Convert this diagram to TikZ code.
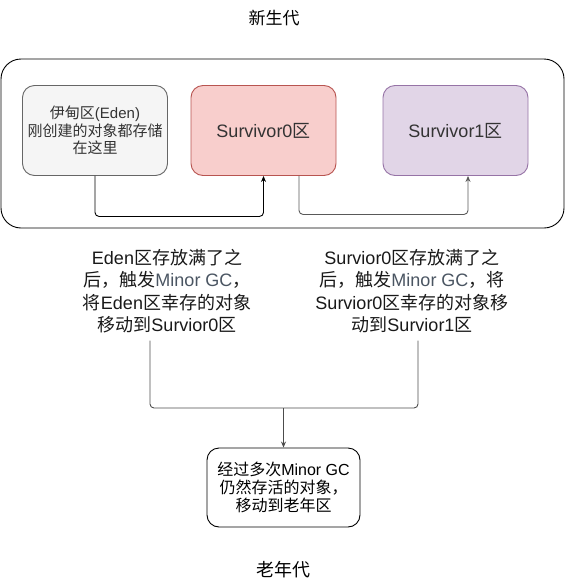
\documentclass[tikz,border=0pt]{standalone}
\usepackage{fontspec}
\setmainfont{Noto Sans CJK SC}
\newfontfamily\enfont{Liberation Sans}
\newcommand{\en}[1]{{\enfont #1}}
\usetikzlibrary{arrows.meta}
\definecolor{edenfill}{HTML}{F5F5F5}
\definecolor{edendraw}{HTML}{666666}
\definecolor{sfill}{HTML}{F8CECC}
\definecolor{sdraw}{HTML}{B85450}
\definecolor{pfill}{HTML}{E1D5E7}
\definecolor{pdraw}{HTML}{9673A6}
\definecolor{txtgray}{HTML}{333333}
\definecolor{gcblue}{HTML}{4A5562}
\begin{document}
\begin{tikzpicture}[
    x=1pt, y=-1pt, line width=0.9pt,
    area/.style={draw, rounded corners=12pt, minimum width=145pt, minimum height=90pt,
      align=center, text=txtgray, font=\fontsize{18}{22}\selectfont},
    note/.style={align=center, inner xsep=0pt, inner ysep=7pt, text=black!90,
      font=\fontsize{18}{22.5}\selectfont},
    title/.style={font=\fontsize{17}{20}\selectfont},
    conn/.style={draw=black!70, rounded corners=4pt},
    >={Stealth[length=6pt,width=5pt]}
  ]
  \useasboundingbox (0,0) rectangle (566,584);

  % Young generation
  \node[title] (ytitle) at (274,18) {新生代};
  \node[draw, rounded corners=20pt, minimum width=563pt, minimum height=169pt] (young) at (282.5,143.5) {};
  \node[area, fill=edenfill, draw=edendraw, font=\fontsize{15}{17.5}\selectfont] (eden) at (95,130.5)
    {伊甸区\en{(Eden)}\\刚创建的对象都存储\\在这里};
  \node[area, fill=sfill, draw=sdraw] (s0) at (263.5,130.5) {\en{Survivor0}区};
  \node[area, fill=pfill, draw=pdraw] (s1) at (455.5,130.5) {\en{Survivor1}区};

  \draw[conn, draw=black, ->] (eden.south) -- ++(0,40.5) -| (s0.south);
  \draw[conn, draw=black!65, ->] ([xshift=35.5pt]s0.south) -- ++(0,38.5) -| ([xshift=12.5pt]s1.south);

  % Minor GC notes
  \node[note] (capL) at (167,291)
    {\en{Eden}区存放满了之\\后，触发\textcolor{gcblue}{\en{Minor GC}}，\\将\en{Eden}区幸存的对象\\移动到\en{Survior0}区};
  \node[note] (capR) at (412,291)
    {\en{Survior0}区存放满了之\\后，触发\textcolor{gcblue}{\en{Minor GC}}，将\\\en{Survior0}区幸存的对象移\\动到\en{Survior1}区};

  % Old generation
  \node[area, draw=black, text=black, minimum width=153pt, minimum height=79pt,
    font=\fontsize{16}{18}\selectfont] (old) at (283.5,487.5)
    {经过多次\en{Minor GC}\\仍然存活的对象，\\移动到老年区};
  \node[title, font=\fontsize{18}{20}\selectfont] (otitle) at (283.5,570) {老年代};

  \coordinate (join) at (283.5,408);
  \draw[conn] ([xshift=-17pt]capL.south) |- (join);
  \draw[conn] ([xshift=6pt]capR.south) |- (join);
  \draw[conn, ->] (join) -- (old);

\end{tikzpicture}
\end{document}
